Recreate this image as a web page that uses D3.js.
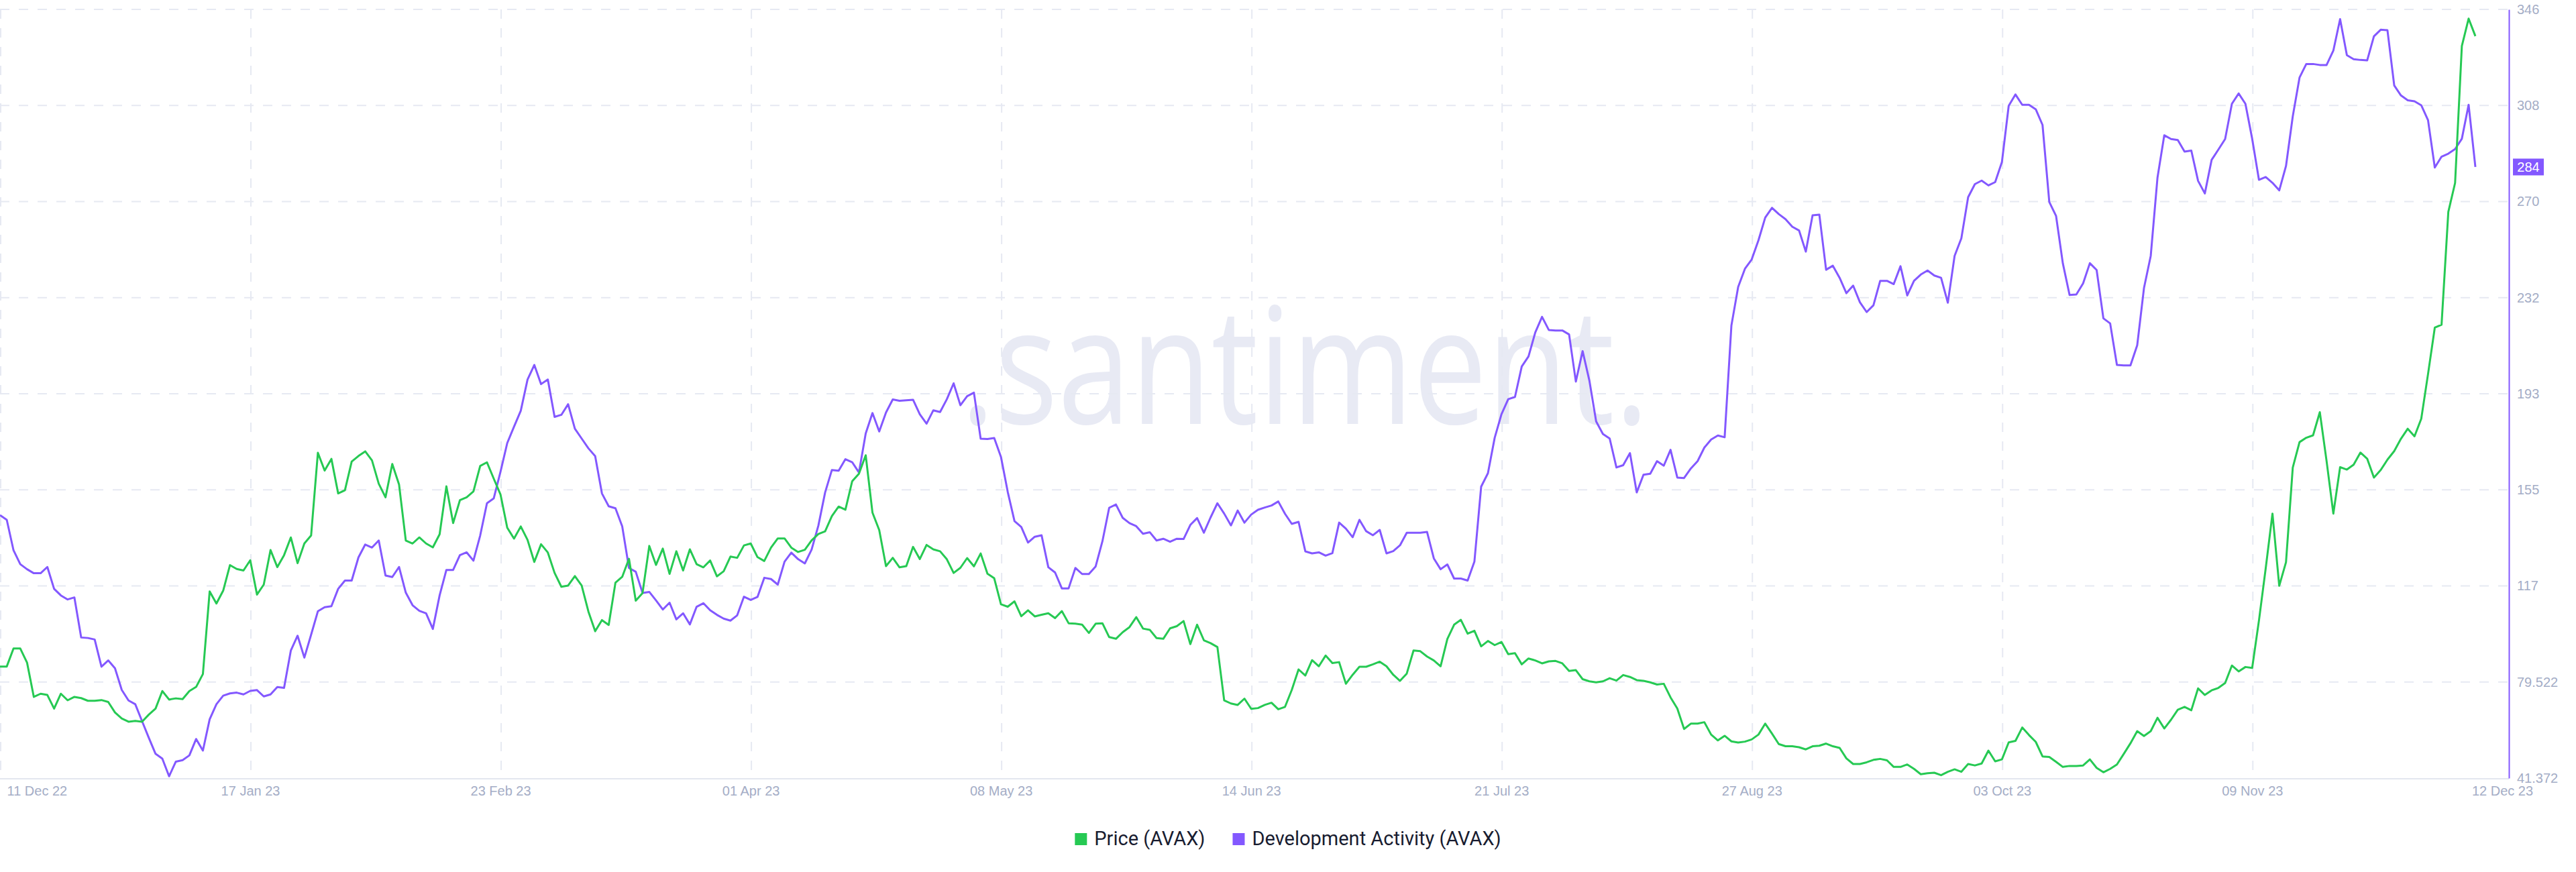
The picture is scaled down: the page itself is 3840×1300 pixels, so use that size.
<!DOCTYPE html>
<html>
<head>
  <meta charset="utf-8"><script src="https://d3js.org/d3.v7.min.js"></script>
  <style>body { margin: 0; background: white; }</style>
</head>

<body>
  <svg id="mychart" width="3840" height="1300" style="background: white"></svg>
<script>
  // daily values, 11 Dec 22 .. 12 Dec 23
  startDay = "2022-12-11"
  tickDates = ["2022-12-11", "2023-01-17", "2023-02-23", "2023-04-01", "2023-05-08", "2023-06-14",
               "2023-07-21", "2023-08-27", "2023-10-03", "2023-11-09", "2023-12-12"]
  devTicks = [41.372, 79.522, 117.672, 155.822, 193.972, 232.122, 270.272, 308.422, 346.572]
  seriesNames = ["Price (AVAX)", "Development Activity (AVAX)"]

  price = [
    12.82, 12.82, 13.56, 13.56, 12.98, 11.57, 11.70, 11.65, 11.09, 11.70,
    11.43, 11.57, 11.52, 11.41, 11.41, 11.44, 11.36, 10.93, 10.68, 10.55,
    10.58, 10.55, 10.84, 11.09, 11.81, 11.46, 11.51, 11.48, 11.81, 11.98,
    12.51, 15.91, 15.41, 15.94, 16.99, 16.83, 16.77, 17.19, 15.78, 16.19,
    17.61, 16.91, 17.40, 18.13, 17.07, 17.88, 18.21, 21.61, 20.88, 21.36,
    19.94, 20.07, 21.25, 21.48, 21.67, 21.30, 20.34, 19.78, 21.15, 20.31,
    18.00, 17.88, 18.13, 17.88, 17.72, 18.26, 20.23, 18.72, 19.66, 19.78,
    20.02, 21.07, 21.22, 20.55, 19.90, 18.53, 18.08, 18.58, 18.03, 17.12,
    17.85, 17.51, 16.67, 16.10, 16.15, 16.54, 16.15, 15.08, 14.27, 14.73,
    14.53, 16.27, 16.51, 17.25, 15.53, 15.84, 17.78, 17.00, 17.67, 16.63,
    17.56, 16.77, 17.64, 17.03, 16.90, 17.18, 16.53, 16.74, 17.34, 17.29,
    17.80, 17.88, 17.32, 17.16, 17.71, 18.09, 18.09, 17.71, 17.53, 17.62,
    18.01, 18.27, 18.38, 19.01, 19.40, 19.27, 20.44, 20.75, 21.51, 19.15,
    18.43, 16.95, 17.29, 16.90, 16.95, 17.74, 17.24, 17.82, 17.64, 17.56,
    17.23, 16.67, 16.88, 17.28, 16.94, 17.47, 16.64, 16.45, 15.38, 15.28,
    15.50, 14.89, 15.13, 14.88, 14.95, 15.01, 14.81, 15.10, 14.60, 14.58,
    14.54, 14.20, 14.58, 14.60, 14.03, 13.96, 14.23, 14.44, 14.85, 14.38,
    14.33, 13.99, 13.96, 14.39, 14.48, 14.69, 13.74, 14.54, 13.90, 13.78,
    13.62, 11.43, 11.30, 11.24, 11.50, 11.08, 11.11, 11.24, 11.33, 11.06,
    11.16, 11.86, 12.70, 12.45, 13.08, 12.83, 13.27, 12.96, 13.00, 12.11,
    12.48, 12.81, 12.81, 12.91, 13.02, 12.83, 12.48, 12.23, 12.53, 13.48,
    13.45, 13.23, 13.07, 12.83, 13.95, 14.54, 14.74, 14.17, 14.29, 13.65,
    13.87, 13.70, 13.83, 13.33, 13.37, 12.91, 13.15, 13.07, 12.95, 13.03,
    13.05, 12.95, 12.64, 12.67, 12.30, 12.21, 12.17, 12.21, 12.34, 12.24,
    12.47, 12.39, 12.26, 12.23, 12.17, 12.08, 12.11, 11.55, 11.09, 10.25,
    10.47, 10.47, 10.53, 10.02, 9.78, 9.97, 9.74, 9.69, 9.73, 9.82,
    10.02, 10.47, 10.06, 9.63, 9.54, 9.54, 9.50, 9.41, 9.54, 9.56,
    9.65, 9.54, 9.47, 9.04, 8.81, 8.81, 8.88, 8.98, 9.02, 8.96,
    8.69, 8.69, 8.79, 8.61, 8.39, 8.43, 8.45, 8.35, 8.49, 8.59,
    8.49, 8.81, 8.75, 8.83, 9.36, 8.92, 9.00, 9.70, 9.76, 10.31,
    10.00, 9.72, 9.12, 9.10, 8.90, 8.69, 8.73, 8.73, 8.75, 9.00,
    8.65, 8.47, 8.61, 8.79, 9.22, 9.66, 10.16, 9.96, 10.16, 10.71,
    10.27, 10.63, 11.04, 11.16, 11.02, 11.92, 11.65, 11.84, 11.94, 12.14,
    12.86, 12.62, 12.80, 12.76, 14.71, 16.86, 19.11, 16.14, 17.11, 21.00,
    22.05, 22.23, 22.33, 23.28, 21.27, 19.11, 21.02, 20.92, 21.12, 21.62,
    21.37, 20.59, 20.90, 21.33, 21.68, 22.19, 22.60, 22.29, 23.01, 24.85,
    26.76, 26.88, 31.52, 32.71, 38.34, 39.47, 38.75
  ]

  devActivity = [
    145.8, 143.9, 131.8, 126.3, 124.3, 122.7, 122.7, 125.2, 116.5, 113.9,
    112.3, 113.1, 97.2, 97.0, 96.4, 85.6, 88.1, 85.0, 76.4, 72.2,
    70.7, 64.0, 57.4, 51.0, 49.1, 42.1, 47.9, 48.5, 50.4, 56.9,
    52.3, 64.7, 70.7, 74.1, 75.0, 75.3, 74.6, 76.0, 76.3, 73.8,
    74.6, 77.5, 77.2, 92.0, 97.9, 89.2, 98.3, 107.6, 109.2, 109.6,
    116.5, 119.8, 119.8, 129.0, 134.1, 132.9, 135.7, 121.8, 121.2, 125.2,
    115.0, 110.0, 107.8, 106.8, 100.6, 113.9, 124.0, 124.0, 129.9, 131.0,
    127.7, 137.7, 150.5, 152.4, 163.0, 174.4, 180.9, 187.2, 199.6, 205.4,
    197.8, 199.6, 184.8, 185.6, 189.8, 180.1, 176.2, 172.3, 169.2, 154.4,
    149.3, 148.5, 141.3, 124.8, 123.3, 114.9, 115.3, 111.9, 108.3, 111.0,
    104.4, 106.8, 102.4, 109.4, 110.8, 108.0, 106.2, 104.7, 103.9, 106.0,
    113.4, 112.1, 113.3, 120.9, 120.4, 118.2, 127.3, 130.9, 128.3, 126.6,
    132.1, 141.6, 154.8, 163.7, 163.4, 168.0, 166.8, 162.7, 178.2, 186.3,
    179.0, 186.5, 191.7, 191.2, 191.4, 191.6, 185.8, 182.1, 187.4, 186.7,
    191.8, 198.1, 189.4, 193.0, 194.4, 176.1, 176.0, 176.4, 168.9, 155.0,
    143.4, 141.1, 134.9, 137.2, 137.8, 125.1, 123.0, 116.7, 116.7, 124.8,
    122.4, 122.4, 125.4, 135.4, 148.7, 150.0, 144.7, 142.6, 141.4, 138.4,
    139.0, 135.7, 136.4, 135.2, 136.4, 136.3, 141.9, 144.6, 138.8, 144.9,
    150.5, 146.4, 141.7, 147.6, 142.8, 146.0, 147.9, 148.8, 149.6, 151.2,
    146.3, 142.3, 143.1, 131.4, 130.6, 131.0, 129.7, 130.7, 142.8, 140.4,
    137.0, 143.9, 139.4, 137.8, 139.9, 130.6, 131.5, 133.8, 138.8, 138.8,
    138.8, 139.1, 128.6, 124.3, 126.2, 120.6, 120.6, 119.8, 127.3, 157.1,
    162.4, 176.5, 185.8, 191.8, 192.7, 204.8, 208.8, 218.3, 224.5, 219.3,
    219.1, 219.1, 217.5, 198.8, 210.9, 199.2, 183.0, 178.0, 176.2, 164.7,
    165.6, 170.4, 154.8, 161.8, 162.2, 167.2, 165.4, 171.7, 160.7, 160.5,
    164.3, 167.2, 172.6, 175.8, 177.4, 176.7, 221.1, 236.4, 243.6, 247.3,
    254.9, 263.9, 267.8, 265.3, 263.3, 260.3, 258.8, 250.4, 264.8, 265.1,
    243.2, 244.8, 240.0, 233.9, 236.9, 230.3, 226.4, 229.1, 238.8, 238.8,
    237.5, 244.6, 233.0, 238.8, 241.3, 242.9, 240.9, 240.0, 230.1, 248.7,
    255.7, 272.0, 277.2, 278.6, 276.7, 278.0, 286.0, 308.3, 312.8, 308.7,
    308.7, 306.9, 300.7, 270.1, 264.6, 245.8, 233.2, 233.4, 237.8, 245.8,
    243.1, 223.9, 221.9, 205.4, 205.2, 205.2, 213.2, 235.9, 248.7, 279.8,
    296.6, 295.1, 294.7, 290.1, 290.5, 278.5, 273.5, 286.8, 290.9, 295.1,
    309.1, 313.2, 309.1, 295.2, 278.9, 280.0, 277.7, 274.7, 284.4, 304.1,
    319.5, 324.9, 324.9, 324.5, 324.5, 330.2, 342.7, 328.4, 326.8, 326.5,
    326.3, 335.9, 338.5, 338.3, 316.4, 312.4, 310.5, 310.1, 308.5, 302.6,
    283.8, 288.1, 289.3, 291.1, 295.2, 308.7, 284.0
  ]

  green  = "#26c953"
  purple = "#8358ff"
  labelColor = "#a4adc6"
  gridColor  = "#e6e9f2"
  axisFont = "'Liberation Sans', Arial, sans-serif"

  width  = 3840
  height = 1300
  margin = ({top: 14, right: 100, bottom: 140, left: 0})
  plotRight = width - margin.right          // right axis
  lastX = plotRight - 50                    // last day sits a bit inside the axis

  parse = d3.utcParse("%Y-%m-%d")
  start = parse(startDay)
  dates = devActivity.map((d, i) => d3.utcDay.offset(start, i))

  x = d3.scaleUtc()
      .domain([start, dates[dates.length - 1]])
      .range([margin.left, lastX])

  yDev = d3.scaleLinear()
      .domain([devTicks[0], devTicks[devTicks.length - 1]])
      .range([height - margin.bottom, margin.top])

  yPrice = d3.scaleLinear()
      .domain([8.23, 39.85])
      .range([height - margin.bottom, margin.top])

  svg = d3.select("#mychart")

  // watermark
  svg.append("text")
      .attr("transform", `translate(${(margin.left + plotRight) / 2 + 75},632) scale(1,1.23)`)
      .attr("text-anchor", "middle")
      .attr("font-family", "'Open Sans', sans-serif")
      .attr("font-size", 196)
      .attr("fill", "#e8eaf4")
      .text(".santiment.")

  // grid
  svg.append("g")
    .selectAll("line")
    .data(devTicks.slice(1))
    .join("line")
      .attr("x1", margin.left).attr("x2", plotRight)
      .attr("y1", d => yDev(d)).attr("y2", d => yDev(d))
      .attr("stroke", gridColor).attr("stroke-width", 2)
      .attr("stroke-dasharray", "14,14")

  svg.append("g")
    .selectAll("line")
    .data(tickDates.slice(0, -1).map(parse))
    .join("line")
      .attr("x1", d => x(d) + 1).attr("x2", d => x(d) + 1)
      .attr("y1", margin.top).attr("y2", height - margin.bottom)
      .attr("stroke", gridColor).attr("stroke-width", 2)
      .attr("stroke-dasharray", "14,14")

  // bottom line
  svg.append("line")
      .attr("x1", margin.left).attr("x2", plotRight)
      .attr("y1", height - margin.bottom + 1).attr("y2", height - margin.bottom + 1)
      .attr("stroke", "#e3e6ef").attr("stroke-width", 2)

  xAxis = g => g
      .attr("transform", `translate(0,${height - margin.bottom})`)
      .call(d3.axisBottom(x).tickValues(tickDates.map(parse)).tickFormat(d3.utcFormat("%d %b %y")).tickSize(0))
      .call(g => g.select(".domain").remove())
      .call(g => g.selectAll("text")
          .attr("y", 26).attr("dy", null)
          .attr("fill", labelColor)
          .attr("font-size", 20)
          .attr("font-family", axisFont))
      .call(g => g.select(".tick:first-of-type text").attr("text-anchor", "start").attr("x", 10))
      .call(g => g.select(".tick:last-of-type text").attr("x", 40))

  yAxis = g => g
      .attr("transform", `translate(${plotRight},0)`)
      .call(d3.axisRight(yDev).tickValues(devTicks)
          .tickFormat(d => d < 100 ? d3.format(".3f")(d) : Math.floor(d))
          .tickSize(0).tickPadding(12))
      .call(g => g.select(".domain").attr("stroke", purple).attr("stroke-width", 2))
      .call(g => g.selectAll("text")
          .attr("fill", labelColor)
          .attr("font-size", 20)
          .attr("font-family", axisFont))

  svg.append("g").call(xAxis)

  line = yScale => d3.line()
      .x((d, i) => x(dates[i]))
      .y(d => yScale(d))

  svg.append("path")
      .datum(devActivity)
      .attr("fill", "none")
      .attr("stroke", purple)
      .attr("stroke-width", 3)
      .attr("stroke-linejoin", "round")
      .attr("d", line(yDev))

  svg.append("path")
      .datum(price)
      .attr("fill", "none")
      .attr("stroke", green)
      .attr("stroke-width", 3)
      .attr("stroke-linejoin", "round")
      .attr("d", line(yPrice))

  svg.append("g").call(yAxis)

  // last value badge
  lastDev = devActivity[devActivity.length - 1]
  badge = svg.append("g").attr("transform", `translate(${plotRight + 6},${yDev(lastDev)})`)
  badge.append("rect")
      .attr("x", 0).attr("y", -12.5)
      .attr("width", 46).attr("height", 25)
      .attr("fill", purple)
  badge.append("text")
      .attr("x", 23).attr("dy", "0.35em")
      .attr("text-anchor", "middle")
      .attr("fill", "white")
      .attr("font-size", 20)
      .attr("font-family", axisFont)
      .text(d3.format(".0f")(lastDev))

  // legend
  legend = svg.append("g")
  items = legend.selectAll("g")
    .data(seriesNames)
    .join("g")
  items.append("rect")
      .attr("y", 1242).attr("width", 18).attr("height", 18)
      .attr("fill", (d, i) => i == 0 ? green : purple)
  items.append("text")
      .attr("x", 29).attr("y", 1260)
      .attr("font-family", "Roboto, sans-serif")
      .attr("font-size", 29)
      .attr("fill", "#181c30")
      .text(d => d)

  offset = 0
  items.each(function() {
    d3.select(this).attr("transform", `translate(${offset},0)`)
    offset += 29 + d3.select(this).select("text").node().getComputedTextLength() + 41
  })
  legend.attr("transform", `translate(${(width - (offset - 41)) / 2},0)`)
</script>
</body>
</html>
